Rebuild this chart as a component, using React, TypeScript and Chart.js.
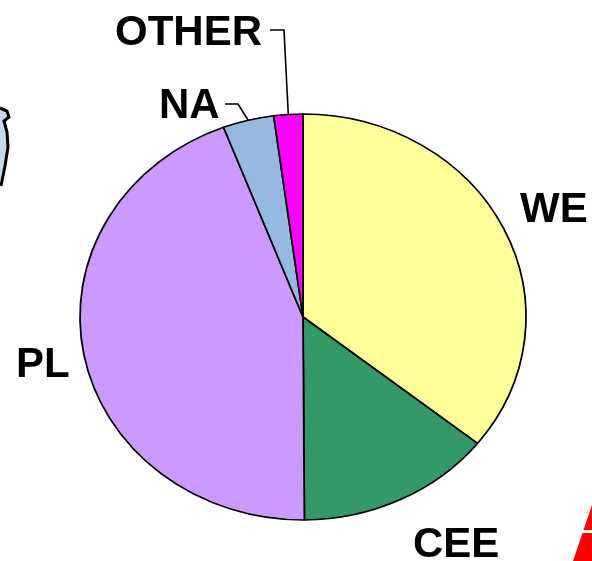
import React, { useEffect, useRef } from "react";
import { Chart, registerables } from "chart.js";

Chart.register(...registerables);

const categories = ["WE", "CEE", "PL", "NA", "OTHER"];
const shares = [35.7, 14.2, 44.3, 3.7, 2.1];
const sliceColors = ["#FFFF99", "#339966", "#CC99FF", "#96B9E1", "#FF00FF"];

// label anchors (left x, baseline y) and optional leader elbow
const labelPos: Record<string, { x: number; y: number; leader?: number[] }> = {
  WE: { x: 520, y: 222 },
  CEE: { x: 413, y: 557 },
  PL: { x: 16, y: 377 },
  NA: { x: 159, y: 118, leader: [225, 104, 238, 104] },
  OTHER: { x: 115, y: 45, leader: [270, 30, 284, 30] },
};

const X_STRETCH = 223 / 203;

const stretchPlugin = {
  id: "stretch",
  beforeDatasetsDraw(chart: any) {
    const ctx = chart.ctx;
    const arc = chart.getDatasetMeta(0).data[0];
    ctx.save();
    ctx.translate(arc.x, 0);
    ctx.scale(X_STRETCH, 1);
    ctx.translate(-arc.x, 0);
  },
  afterDatasetsDraw(chart: any) {
    chart.ctx.restore();
  },
};

const labelPlugin = {
  id: "labels",
  afterDraw(chart: any) {
    const ctx = chart.ctx;
    const meta = chart.getDatasetMeta(0);
    ctx.save();
    ctx.font = "bold 42px 'Liberation Sans', Arial, sans-serif";
    ctx.fillStyle = "#000";
    ctx.textBaseline = "alphabetic";
    ctx.textAlign = "left";
    categories.forEach((c, i) => {
      const p = labelPos[c];
      ctx.fillText(c, p.x, p.y);
      if (p.leader) {
        const arc = meta.data[i];
        const mid = (arc.startAngle + arc.endAngle) / 2;
        const ex = arc.x + Math.cos(mid) * arc.outerRadius * X_STRETCH;
        const ey = arc.y + Math.sin(mid) * arc.outerRadius;
        ctx.beginPath();
        ctx.lineWidth = 1.6;
        ctx.strokeStyle = "#000";
        ctx.moveTo(p.leader[0], p.leader[1]);
        ctx.lineTo(p.leader[2], p.leader[3]);
        ctx.lineTo(ex, ey);
        ctx.stroke();
      }
    });
    // decorative fragments at the edges
    const blue = [
      [0, 108], [7, 111], [9, 117], [4, 121], [7, 132], [8, 147], [5, 166], [1, 186],
    ];
    ctx.beginPath();
    blue.forEach(([x, y], k) => (k ? ctx.lineTo(x, y) : ctx.moveTo(x, y)));
    ctx.lineTo(0, 186);
    ctx.closePath();
    ctx.fillStyle = "#C6D9F0";
    ctx.fill();
    ctx.lineWidth = 3;
    ctx.strokeStyle = "#000";
    ctx.beginPath();
    blue.forEach(([x, y], k) => (k ? ctx.lineTo(x, y) : ctx.moveTo(x, y)));
    ctx.stroke();
    ctx.beginPath();
    ctx.moveTo(573, 561);
    ctx.lineTo(592, 505);
    ctx.lineTo(592, 561);
    ctx.closePath();
    ctx.fillStyle = "#FF0000";
    ctx.fill();
    ctx.fillStyle = "#FFFFFF";
    ctx.fillRect(582, 530, 10, 3);
    ctx.restore();
  },
};

export default function App() {
  const ref = useRef<HTMLCanvasElement | null>(null);
  useEffect(() => {
    if (!ref.current) return;
    const chart = new Chart(ref.current, {
      type: "pie",
      data: {
        labels: categories,
        datasets: [
          {
            data: shares,
            backgroundColor: sliceColors,
            borderColor: "#000000",
            borderWidth: 1.6,
            radius: 203,
          } as any,
        ],
      },
      options: {
        animation: false,
        responsive: false,
        events: [],
        layout: { padding: { left: 14, right: 0, top: 73, bottom: 0 } },
        plugins: { legend: { display: false }, tooltip: { enabled: false } },
      },
      plugins: [stretchPlugin, labelPlugin],
    });
    return () => chart.destroy();
  }, []);
  return (
    <div style={{ position: "fixed", left: 0, top: 0, width: 592, height: 561, background: "#fff" }}>
      <canvas ref={ref} width={592} height={561} style={{ width: 592, height: 561, display: "block" }} />
    </div>
  );
}
